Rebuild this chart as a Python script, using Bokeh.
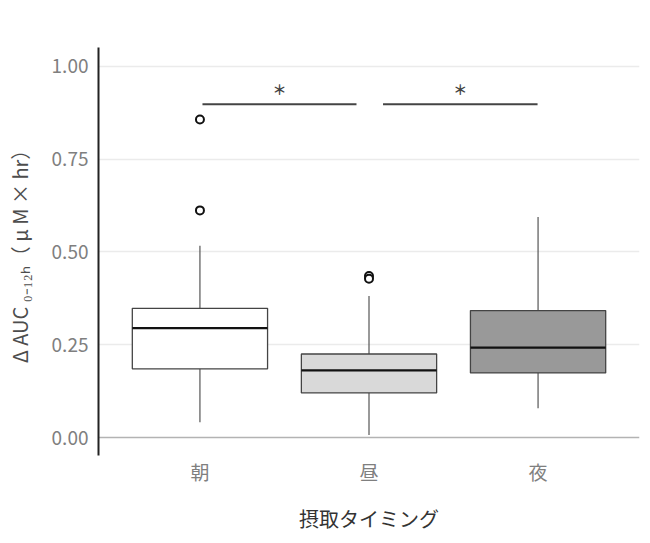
from bokeh.plotting import figure
from bokeh.models import Range1d, FixedTicker, ColumnDataSource
from bokeh.embed import file_html
from bokeh.resources import INLINE
from bokeh.core.properties import value

# ---- data ----
categories = ["朝", "昼", "夜"]
positions = [1, 2, 3]
q1 = [0.185, 0.120, 0.174]
median = [0.295, 0.181, 0.242]
q3 = [0.348, 0.225, 0.342]
whisker_low = [0.041, 0.007, 0.079]
whisker_high = [0.517, 0.381, 0.594]
outlier_x = [1, 1, 2, 2]
outlier_y = [0.857, 0.612, 0.435, 0.428]
box_colors = ["#ffffff", "#d9d9d9", "#999999"]
y_ticks = [0.0, 0.25, 0.5, 0.75, 1.0]
y_tick_labels = ["0.00", "0.25", "0.50", "0.75", "1.00"]
sig_x0 = [1.015, 2.083]
sig_x1 = [1.926, 2.997]
sig_y = [0.898, 0.898]
sig_text = ["＊", "＊"]
y_label = "Δ AUC ₀₋₁₂ₕ（ μ M × hr）"
x_label = "摂取タイミング"

FONT = "Noto Sans CJK JP"
BOX_W = 0.8

p = figure(width=640, height=535, output_backend="svg", toolbar_location=None,
           x_range=Range1d(0.4, 3.6), y_range=Range1d(-0.0485, 1.051),
           min_border_left=98, min_border_right=1, min_border_top=47, min_border_bottom=80)
p.outline_line_color = None
p.background_fill_color = "white"
p.border_fill_color = "white"

p.xgrid.grid_line_color = None
p.ygrid.ticker = FixedTicker(ticks=[0.25, 0.5, 0.75, 1.0])
p.ygrid.grid_line_color = "#ebebeb"
p.ygrid.grid_line_width = 1.5

p.segment(x0=[0.4], x1=[3.6], y0=[0.0], y1=[0.0], line_color="#b3b3b3", line_width=1.5)

p.xaxis.ticker = FixedTicker(ticks=positions)
p.xaxis.major_label_overrides = {pos: c for pos, c in zip(positions, categories)}
p.xaxis.axis_line_color = None
p.xaxis.major_tick_line_color = None
p.xaxis.minor_tick_line_color = None
p.xaxis.major_tick_out = 0
p.xaxis.major_tick_in = 0
p.xaxis.minor_tick_out = 0
p.xaxis.major_label_standoff = 2
p.xaxis.major_label_text_font = FONT
p.xaxis.major_label_text_font_size = "19px"
p.xaxis.major_label_text_color = "#7f7f7f"
p.xaxis.axis_label = x_label
p.xaxis.axis_label_text_font = FONT
p.xaxis.axis_label_text_font_size = "20px"
p.xaxis.axis_label_text_font_style = "normal"
p.xaxis.axis_label_text_color = "#333333"
p.xaxis.axis_label_standoff = 16

p.yaxis.ticker = FixedTicker(ticks=y_ticks)
p.yaxis.major_label_overrides = {t: s for t, s in zip(y_ticks, y_tick_labels)}
p.yaxis.axis_line_color = "#222222"
p.yaxis.axis_line_width = 2
p.yaxis.major_tick_line_color = None
p.yaxis.minor_tick_line_color = None
p.yaxis.major_tick_out = 0
p.yaxis.major_tick_in = 0
p.yaxis.minor_tick_out = 0
p.yaxis.major_label_standoff = 10
p.yaxis.major_label_text_font = FONT
p.yaxis.major_label_text_font_size = "19px"
p.yaxis.major_label_text_color = "#7f7f7f"
p.yaxis.axis_label = y_label
p.yaxis.axis_label_text_font = FONT
p.yaxis.axis_label_text_font_size = "20px"
p.yaxis.axis_label_text_font_style = "normal"
p.yaxis.axis_label_text_color = "#4d4d4d"
p.yaxis.axis_label_standoff = 15

p.segment(x0=positions, x1=positions, y0=q3, y1=whisker_high, line_color="#555555", line_width=1.2)
p.segment(x0=positions, x1=positions, y0=q1, y1=whisker_low, line_color="#555555", line_width=1.2)

src = ColumnDataSource(dict(x=positions, top=q3, bottom=q1, color=box_colors, med=median,
                            x0=[x - BOX_W / 2 for x in positions], x1=[x + BOX_W / 2 for x in positions]))
p.vbar(x="x", top="top", bottom="bottom", width=BOX_W, fill_color="color",
       line_color="#444444", line_width=1.3, source=src)
p.segment(x0="x0", x1="x1", y0="med", y1="med", line_color="#111111", line_width=2.2, source=src)

p.scatter(x=outlier_x, y=outlier_y, marker="circle", size=8, fill_color="white",
          line_color="#111111", line_width=2)

sig = ColumnDataSource(dict(x0=sig_x0, x1=sig_x1, y=sig_y, text=sig_text,
                            xm=[(a + b) / 2 for a, b in zip(sig_x0, sig_x1)],
                            ym=[v + 0.04 for v in sig_y]))
p.segment(x0="x0", x1="x1", y0="y", y1="y", line_color="#444444", line_width=2, source=sig)
p.text(x="xm", y="ym", text="text", text_font=value(FONT),
       text_font_size="14px", text_font_style="bold", text_align="center",
       text_baseline="middle", text_color="#444444", source=sig)

open("out.html", "w").write(file_html(p, INLINE))
